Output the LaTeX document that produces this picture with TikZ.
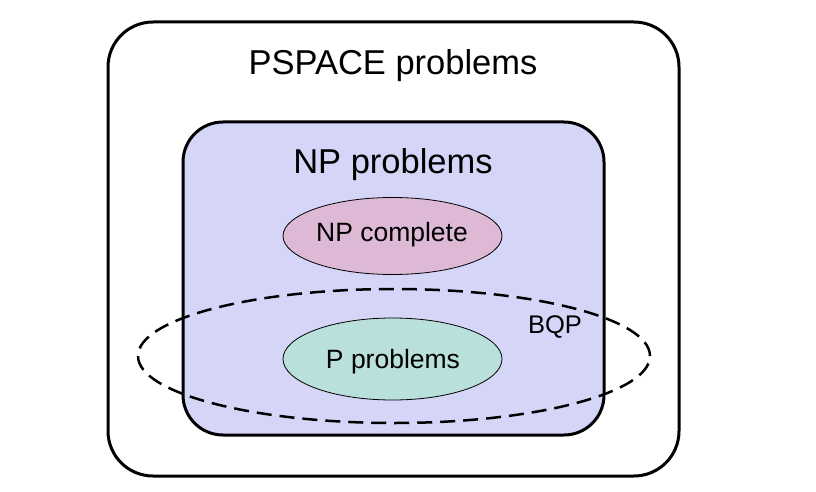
\documentclass[tikz,border=0pt]{standalone}
\usepackage{fontspec}
\setmainfont{Liberation Sans}
\usepackage{tikz}
\usepackage{xcolor}
\usetikzlibrary{shapes.geometric}
\definecolor{lavender}{HTML}{D5D5F8}
\definecolor{pink}{HTML}{DDB9D6}
\definecolor{teal}{HTML}{B9E0DA}

\begin{document}
\begin{tikzpicture}[x=1pt,y=-1pt,every node/.style={inner sep=0pt,outer sep=0pt}]
      \useasboundingbox (0,0) rectangle (816,492);
      \node[draw,line width=3pt,rounded corners=45pt,fill=white,minimum width=571pt,minimum height=454pt] (ps) at (393.5,249) {};
      \node[draw,line width=3pt,rounded corners=40pt,fill=lavender,minimum width=421pt,minimum height=313pt] (np) at (393.5,278.5) {};
      \node[draw,dashed,line width=2.5pt,dash pattern=on 15pt off 8pt,ellipse,minimum width=512pt,minimum height=134pt] (bqp) at (394,356) {};
      \node[draw,line width=0.8pt,ellipse,fill=pink,minimum width=219pt,minimum height=77pt] (npc) at (392.5,236) {};
      \node[draw,line width=0.8pt,ellipse,fill=teal,minimum width=219pt,minimum height=82pt] (p) at (392.5,359) {};
      \node[anchor=base,font=\fontsize{34.5}{40}\selectfont] (pslabel) at (393,75) {PSPACE problems};
      \node[anchor=base,font=\fontsize{34.5}{40}\selectfont] (nplabel) at (393,173) {NP problems};
      \node[anchor=base,font=\fontsize{26.5}{30}\selectfont] (npclabel) at (392,241) {NP complete};
      \node[anchor=base,font=\fontsize{26.5}{30}\selectfont] (plabel) at (393,368) {P problems};
      \node[anchor=base,font=\fontsize{25.5}{30}\selectfont] (bqplabel) at (555,333) {BQP};
    \end{tikzpicture}
\end{document}
